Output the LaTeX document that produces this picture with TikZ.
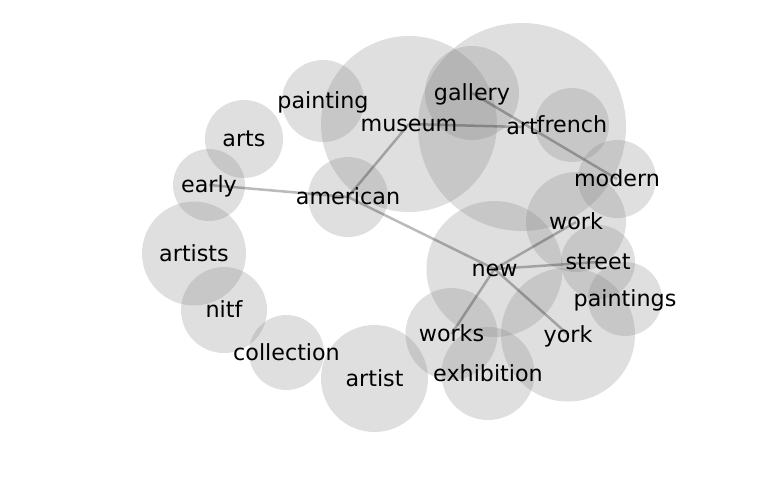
\documentclass[tikz,border=0pt]{standalone}
\usepackage{fontspec}
\setmainfont{DejaVu Sans}
\begin{document}
\begin{tikzpicture}[x=0.72pt,y=-0.72pt,
  bubble/.style={circle, fill=gray, fill opacity=0.25, draw=none, inner sep=0pt, minimum size=#1*1.44pt},
  edge/.style={draw=black, draw opacity=0.27, line width=1.8pt},
  lbl/.style={anchor=base, inner sep=0pt, font=\fontsize{16}{18}\selectfont, text=black}]
\useasboundingbox (0,0) rectangle (768,500);
% bubbles
\node[bubble=88]   (museum)     at (409,124) {};
\node[bubble=104]  (art)        at (522,127) {};
\node[bubble=37]   (french)     at (572,125) {};
\node[bubble=47]   (gallery)    at (472,93) {};
\node[bubble=41]   (painting)   at (323,101) {};
\node[bubble=39]   (modern)     at (617,179) {};
\node[bubble=40]   (american)   at (348,197) {};
\node[bubble=39]   (arts)       at (244,139) {};
\node[bubble=36]   (early)      at (209,185) {};
\node[bubble=52]   (artists)    at (194,253.5) {};
\node[bubble=43]   (nitf)       at (224,310) {};
\node[bubble=37.5] (collection) at (286.5,352.5) {};
\node[bubble=53.5] (artist)     at (374.5,378.5) {};
\node[bubble=68]   (new)        at (494.5,269) {};
\node[bubble=50]   (work)       at (576,222) {};
\node[bubble=37]   (street)     at (598,262) {};
\node[bubble=37]   (paintings)  at (625,299) {};
\node[bubble=67]   (york)       at (568,334.5) {};
\node[bubble=46]   (works)      at (451.5,334) {};
\node[bubble=46.5] (exhibition) at (488,373.5) {};
% edges
\draw[edge] (museum.center) -- (american.center);
\draw[edge] (museum.center) -- (art.center);
\draw[edge] (gallery.center) -- (modern.center);
\draw[edge] (early.center) -- (american.center);
\draw[edge] (american.center) -- (new.center);
\draw[edge] (new.center) -- (work.center);
\draw[edge] (new.center) -- (street.center);
\draw[edge] (new.center) -- (works.center);
\draw[edge] (new.center) -- (york.center);
% labels
\node[lbl] (t-museum)     at (409,131.5) {museum};
\node[lbl] (t-art)        at (522,134.5) {art};
\node[lbl] (t-french)     at (572,132.5) {french};
\node[lbl] (t-gallery)    at (472,100.5) {gallery};
\node[lbl] (t-painting)   at (323,108.5) {painting};
\node[lbl] (t-modern)     at (617,186.5) {modern};
\node[lbl] (t-american)   at (348,204.5) {american};
\node[lbl] (t-arts)       at (244,146.5) {arts};
\node[lbl] (t-early)      at (209,192.5) {early};
\node[lbl] (t-artists)    at (194,261) {artists};
\node[lbl] (t-nitf)       at (224,317.5) {nitf};
\node[lbl] (t-collection) at (286.5,360) {collection};
\node[lbl] (t-artist)     at (374.5,386) {artist};
\node[lbl] (t-new)        at (494.5,276.5) {new};
\node[lbl] (t-work)       at (576,229.5) {work};
\node[lbl] (t-street)     at (598,269.5) {street};
\node[lbl] (t-paintings)  at (625,306.5) {paintings};
\node[lbl] (t-york)       at (568,342) {york};
\node[lbl] (t-works)      at (451.5,341.5) {works};
\node[lbl] (t-exhibition) at (488,381) {exhibition};
\end{tikzpicture}
\end{document}
